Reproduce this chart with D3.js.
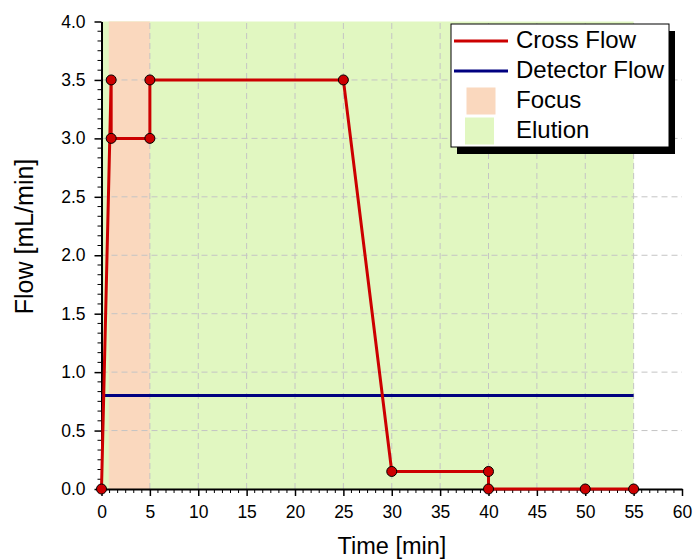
<!DOCTYPE html>
<html>
<head>
<meta charset="utf-8">
<script src="https://cdn.jsdelivr.net/npm/d3@7"></script>
<style>
  body { margin: 0; background: #fff; }
  text { font-family: "Liberation Sans", Arial, sans-serif; }
</style>
</head>
<body>
<script>
// datos
var crossTime = [0, 1, 1, 5, 5, 25, 30, 40, 40, 50, 55]
var crossFlow = [0, 3.5, 3, 3, 3.5, 3.5, 0.15, 0.15, 0, 0, 0]
var detectorTime = [0, 55]
var detectorFlow = [0.8, 0.8]
var focusRange = [0.75, 5]
var elutionRange = [0, 55]
var xTicks = [0, 5, 10, 15, 20, 25, 30, 35, 40, 45, 50, 55, 60]
var yTicks = [0, 0.5, 1, 1.5, 2, 2.5, 3, 3.5, 4]
var legendNames = ["Cross Flow", "Detector Flow", "Focus", "Elution"]

var W = 694, H = 560
var svg = d3.select("body").append("svg").attr("width", W).attr("height", H)

var x = d3.scaleLinear().domain([0, 60]).range([101.5, 682])
var y = d3.scaleLinear().domain([0, 4]).range([489, 21.5])

// zonas sombreadas
svg.append("rect")
  .attr("x", x(elutionRange[0])).attr("y", y(4))
  .attr("width", x(elutionRange[1]) - x(elutionRange[0]))
  .attr("height", y(0) - y(4))
  .attr("fill", "#e1f7c1")
svg.append("rect")
  .attr("x", x(focusRange[0])).attr("y", y(4))
  .attr("width", x(focusRange[1]) - x(focusRange[0]))
  .attr("height", y(0) - y(4))
  .attr("fill", "#fad8be")

// rejilla
var grid = svg.append("g").attr("stroke", "#c4c4c4").attr("stroke-dasharray", "6,4").attr("stroke-width", 1)
grid.selectAll("line.v").data(xTicks.filter(d => d > 0 && d < 60)).enter().append("line")
  .attr("x1", d => x(d)).attr("x2", d => x(d)).attr("y1", y(0)).attr("y2", y(4))
grid.selectAll("line.h").data(yTicks.filter(d => d > 0 && d < 4)).enter().append("line")
  .attr("y1", d => y(d)).attr("y2", d => y(d)).attr("x1", x(0)).attr("x2", x(60))

// ejes
function minors(ticks) {
  var out = []
  for (var i = 0; i < ticks.length - 1; i++) {
    var step = (ticks[i + 1] - ticks[i]) / 6
    for (var k = 1; k < 6; k++) out.push(ticks[i] + k * step)
  }
  return out
}

var xAxis = svg.append("g").attr("transform", "translate(0," + y(0) + ")")
  .call(d3.axisBottom(x).tickValues(xTicks).tickSize(7).tickSizeOuter(0).tickPadding(10).tickFormat(d3.format("d")))
xAxis.append("g").selectAll("line").data(minors(xTicks)).enter().append("line")
  .attr("x1", d => x(d)).attr("x2", d => x(d)).attr("y1", 0).attr("y2", 4).attr("stroke", "#000")

var yAxis = svg.append("g").attr("transform", "translate(" + x(0) + ",0)")
  .call(d3.axisLeft(y).tickValues(yTicks).tickSize(7).tickSizeOuter(0).tickPadding(9).tickFormat(d3.format(".1f")))
yAxis.append("g").selectAll("line").data(minors(yTicks)).enter().append("line")
  .attr("y1", d => y(d)).attr("y2", d => y(d)).attr("x1", 0).attr("x2", -4).attr("stroke", "#000")

svg.selectAll(".domain").attr("stroke-width", 2)
svg.selectAll(".tick line").attr("stroke-width", 1.5)
svg.selectAll(".tick text").style("font-size", "17.5px").attr("fill", "#000")

// lineas
var lineXY = d3.line().x(d => x(d[0])).y(d => y(d[1]))
svg.append("path")
  .datum(d3.zip(detectorTime, detectorFlow))
  .attr("d", lineXY).attr("fill", "none").attr("stroke", "#000080").attr("stroke-width", 3)

var cross = d3.zip(crossTime, crossFlow)
svg.append("path")
  .datum(cross)
  .attr("d", lineXY).attr("fill", "none").attr("stroke", "#cc0000").attr("stroke-width", 3)

svg.append("g").selectAll("circle").data(cross).enter().append("circle")
  .attr("cx", d => x(d[0])).attr("cy", d => y(d[1])).attr("r", 5)
  .attr("fill", "#cc0000").attr("stroke", "#000").attr("stroke-width", 1)

// titulos
svg.append("text").attr("x", 392).attr("y", 554).attr("text-anchor", "middle")
  .style("font-size", "23.5px").text("Time [min]")
svg.append("text").attr("transform", "translate(33,236.5) rotate(-90)").attr("text-anchor", "middle")
  .style("font-size", "25px").text("Flow [mL/min]")

// leyenda
var lg = svg.append("g")
lg.append("rect").attr("x", 457).attr("y", 31).attr("width", 218).attr("height", 123).attr("fill", "#000")
lg.append("rect").attr("x", 451).attr("y", 24).attr("width", 218).attr("height", 123)
  .attr("fill", "#fff").attr("stroke", "#000").attr("stroke-width", 1)
var lgColors = ["#cc0000", "#000080", "#fad8be", "#e1f7c1"]
legendNames.forEach(function (n, i) {
  var cy = 41 + i * 30
  if (i < 2) {
    lg.append("line").attr("x1", 454).attr("x2", 508).attr("y1", cy).attr("y2", cy)
      .attr("stroke", lgColors[i]).attr("stroke-width", 3)
  } else {
    lg.append("rect").attr("x", 466.5 - (i - 2) * 1.5).attr("y", cy - 13.5).attr("width", 29).attr("height", 27)
      .attr("fill", lgColors[i])
  }
  lg.append("text").attr("x", 516).attr("y", cy + 7.3).style("font-size", "24px").text(n)
})
</script>
</body>
</html>
